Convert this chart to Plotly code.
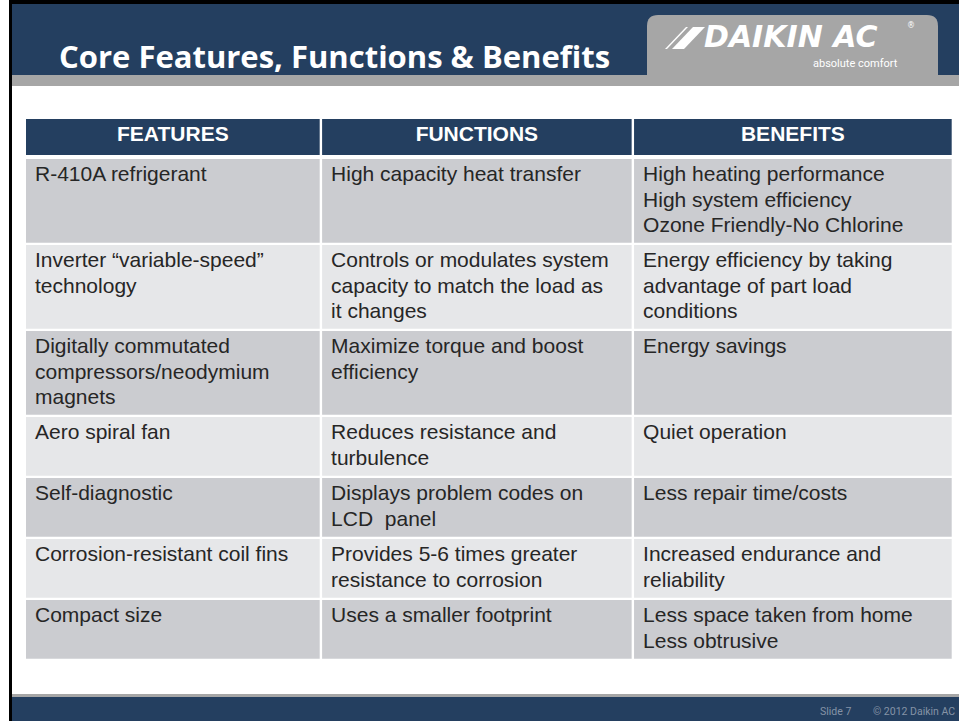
import plotly.graph_objects as go

# ---------------- data ----------------
headers = ["FEATURES", "FUNCTIONS", "BENEFITS"]
features = [
    ["R-410A refrigerant"],
    ["Inverter “variable-speed”", "technology"],
    ["Digitally commutated", "compressors/neodymium", "magnets"],
    ["Aero spiral fan"],
    ["Self-diagnostic"],
    ["Corrosion-resistant coil fins"],
    ["Compact size"],
]
functions = [
    ["High capacity heat transfer"],
    ["Controls or modulates system", "capacity to match the load as", "it changes"],
    ["Maximize torque and boost", "efficiency"],
    ["Reduces resistance and", "turbulence"],
    ["Displays problem codes on", "LCD  panel"],
    ["Provides 5-6 times greater", "resistance to corrosion"],
    ["Uses a smaller footprint"],
]
benefits = [
    ["High heating performance", "High system efficiency", "Ozone Friendly-No Chlorine"],
    ["Energy efficiency by taking", "advantage of part load", "conditions"],
    ["Energy savings"],
    ["Quiet operation"],
    ["Less repair time/costs"],
    ["Increased endurance and", "reliability"],
    ["Less space taken from home", "Less obtrusive"],
]
title_text = "Core Features, Functions & Benefits"
logo_text = "DAIKIN AC"
logo_tagline = "absolute comfort"
footer_slide = "Slide 7"
footer_copy = "© 2012 Daikin AC"

# ---------------- style / geometry ----------------
W, H = 959, 721
NAVY = "#243f60"
BAND = "#a6a6a6"
ROW_DARK = "#cbccd0"
ROW_LIGHT = "#e6e7e9"
TEXT = "#262626"
BODY_FONT = "Liberation Sans, Arial, sans-serif"
TITLE_FONT = "Open Sans, sans-serif"

col_edges = [26, 320.9, 632.85, 951.7]
col_gap = 2.4
row_gap = 2.3
head_top, head_bot = 119, 155
first_row_top = 159
line_pitch = 25.3
first_line_offset = 17.0   # from row top to centre of first line
text_pad = 9

columns = [features, functions, benefits]
n_rows = len(features)
n_lines = [max(len(col[i]) for col in columns) for i in range(n_rows)]

row_tops, row_heights = [], []
t = first_row_top
for n in n_lines:
    pitch = 25 * n + 11
    row_tops.append(t)
    row_heights.append(pitch - row_gap)
    t += pitch

col_lefts = [col_edges[0]] + [e + col_gap / 2 for e in col_edges[1:-1]]
col_rights = [e - col_gap / 2 for e in col_edges[1:-1]] + [col_edges[-1]]
col_widths = [r - l for l, r in zip(col_lefts, col_rights)]

fig = go.Figure()

# header cells
fig.add_trace(go.Bar(
    orientation="h",
    y=[(head_top + head_bot) / 2] * 3,
    x=col_widths,
    base=col_lefts,
    width=[head_bot - head_top] * 3,
    marker=dict(color=NAVY, line=dict(width=0)),
    hoverinfo="skip", showlegend=False,
))
fig.add_trace(go.Scatter(
    x=[(l + r) / 2 for l, r in zip(col_lefts, col_rights)],
    y=[(head_top + head_bot) / 2 - 1] * 3,
    text=headers, mode="text", textposition="middle center",
    textfont=dict(family=BODY_FONT, size=21, color="white", weight="bold"),
    hoverinfo="skip", showlegend=False,
))

# body cells
row_colors = [ROW_DARK if i % 2 == 0 else ROW_LIGHT for i in range(n_rows)]
for j, col in enumerate(columns):
    fig.add_trace(go.Bar(
        orientation="h",
        y=[tp + h / 2 for tp, h in zip(row_tops, row_heights)],
        x=[col_widths[j]] * n_rows,
        base=[col_lefts[j]] * n_rows,
        width=row_heights,
        marker=dict(color=row_colors, line=dict(width=0)),
        hoverinfo="skip", showlegend=False,
    ))
    xs, ys, txt = [], [], []
    for i, lines in enumerate(col):
        for k, s in enumerate(lines):
            xs.append(col_lefts[j] + text_pad)
            ys.append(row_tops[i] + first_line_offset + line_pitch * k)
            txt.append(s)
    fig.add_trace(go.Scatter(
        x=xs, y=ys, text=txt, mode="text", textposition="middle right",
        textfont=dict(family=BODY_FONT, size=21, color=TEXT),
        hoverinfo="skip", showlegend=False,
    ))

# ---------------- slide decoration ----------------
shapes = [
    # header bar, grey band
    dict(type="rect", x0=12, x1=W, y0=4, y1=75, fillcolor=NAVY, line_width=0),
    dict(type="rect", x0=12, x1=W, y0=75, y1=86, fillcolor=BAND, line_width=0),
    # logo tab
    dict(type="path", path="M 647,86 L 647,26 Q 647,15 658,15 L 927,15 Q 938,15 938,26 L 938,86 Z",
         fillcolor=BAND, line_width=0),
    # logo stripes
    dict(type="path", path="M 665,49 L 667,49 L 688,27 L 686,27 Z", fillcolor="white", line_width=0),
    dict(type="path", path="M 672,49 L 684,49 L 705,27 L 693,27 Z", fillcolor="white", line_width=0),
    # footer
    dict(type="rect", x0=12, x1=W, y0=694, y1=697, fillcolor=BAND, line_width=0),
    dict(type="rect", x0=12, x1=W, y0=697, y1=H, fillcolor=NAVY, line_width=0),
    # black frame lines
    dict(type="rect", x0=9, x1=W, y0=0, y1=4, fillcolor="black", line_width=0),
    dict(type="rect", x0=9, x1=12, y0=0, y1=H, fillcolor="black", line_width=0),
]
for s in shapes:
    s.update(xref="x", yref="y", layer="below")

annotations = [
    dict(x=57, y=56, text=title_text, xanchor="left", yanchor="middle", showarrow=False,
         font=dict(family=TITLE_FONT, size=31, color="white", weight="bold")),
    dict(x=702, y=36, text=logo_text, xanchor="left", yanchor="middle", showarrow=False,
         font=dict(family="DejaVu Sans, sans-serif", size=30, color="white", weight="bold", style="italic")),
    dict(x=905, y=25, text="®", xanchor="left", yanchor="middle", showarrow=False,
         font=dict(family="DejaVu Sans, sans-serif", size=8, color="white")),
    dict(x=900, y=63, text=logo_tagline, xanchor="right", yanchor="middle", showarrow=False,
         font=dict(family="Roboto, sans-serif", size=11, color="white")),
    dict(x=818, y=711, text=footer_slide, xanchor="left", yanchor="middle", showarrow=False,
         font=dict(family="Roboto, sans-serif", size=10.5, color="#8593a6")),
    dict(x=957, y=711, text=footer_copy, xanchor="right", yanchor="middle", showarrow=False,
         font=dict(family="Roboto, sans-serif", size=10.5, color="#8593a6")),
]
for a in annotations:
    a.update(xref="x", yref="y")

fig.update_layout(
    width=W, height=H,
    margin=dict(l=0, r=0, t=0, b=0, pad=0),
    paper_bgcolor="white", plot_bgcolor="white",
    barmode="overlay",
    xaxis=dict(range=[0, W], visible=False, fixedrange=True),
    yaxis=dict(range=[H, 0], visible=False, fixedrange=True),
    shapes=shapes, annotations=annotations,
    showlegend=False,
)

fig.write_html(
    "out.html",
    config=dict(displayModeBar=False, staticPlot=True),
    post_script="document.body.style.margin='0';document.body.style.overflow='hidden';",
)
